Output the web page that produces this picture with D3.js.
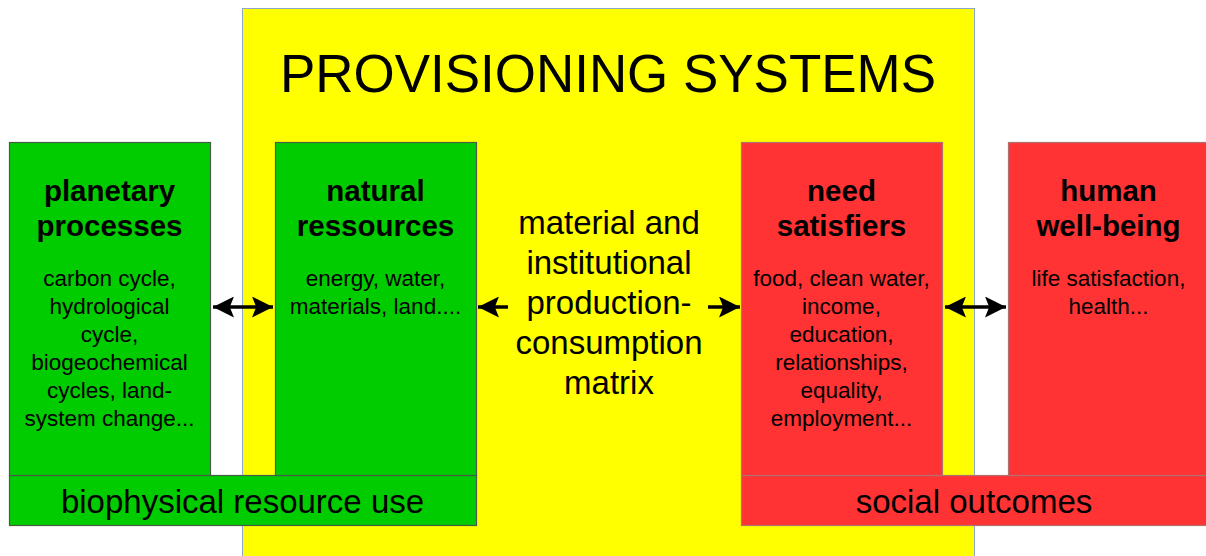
<!doctype html>
<html lang="en">
<head>
    <meta charset="utf-8">
    <title>Provisioning systems</title>
    <script src="https://cdn.jsdelivr.net/npm/d3@7"></script>
    <style>
        body { margin: 0; background: #fff; }
        text { font-family: "Liberation Sans", Arial, sans-serif; fill: #000; }
        .head { font-weight: bold; font-size: 29.5px; }
        .body { font-size: 22.5px; }
        .mid { font-size: 33px; }
        .bar-label { font-size: 33px; }
    </style>
</head>
<body>
<svg width="1206" height="556"></svg>
<script>

    // texts
    var title = "PROVISIONING SYSTEMS";
    var boxHeads = [
        ["planetary", "processes"],
        ["natural", "ressources"],
        ["need", "satisfiers"],
        ["human", "well-being"]
    ];
    var boxBodies = [
        ["carbon cycle,", "hydrological", "cycle,", "biogeochemical", "cycles, land-", "system change..."],
        ["energy, water,", "materials, land...."],
        ["food, clean water,", "income,", "education,", "relationships,", "equality,", "employment..."],
        ["life satisfaction,", "health..."]
    ];
    var boxKinds = ["green", "green", "red", "red"];
    var middleLines = ["material and", "institutional", "production-", "consumption", "matrix"];
    var barLabels = ["biophysical resource use", "social outcomes"];
    // arrows: between columns, "both" / "left" / "right"
    var arrows = [
        {from: 0, to: 1, type: "both"},
        {from: 1, to: 2, type: "left"},
        {from: 1, to: 2, type: "right"},
        {from: 2, to: 3, type: "both"}
    ];

    var fills = {green: "#00cc00", red: "#ff3333"};
    var strokes = {green: "#4a5a4a", red: "#b07070"};

    var svg = d3.select("svg");

    // layout
    var colX = [9, 275, 741, 1008], boxW = 201;
    var boxTop = 142, boxBottom = 475, barBottom = 525;
    var arrowY = 307;

    svg.append("defs").append("marker")
        .attr("id", "head")
        .attr("viewBox", "0 0 10 10")
        .attr("refX", 10).attr("refY", 5)
        .attr("markerWidth", 6).attr("markerHeight", 6)
        .attr("markerUnits", "strokeWidth")
        .attr("orient", "auto-start-reverse")
      .append("path")
        .attr("d", "M0,0 L10,5 L0,10 L2,5 Z")
        .attr("fill", "#000");

    // yellow provisioning box
    svg.append("rect")
        .attr("x", 242.5).attr("y", 8.5)
        .attr("width", 732).attr("height", 560)
        .attr("fill", "#ffff00")
        .attr("stroke", "#8fa6cc").attr("stroke-width", 1);

    svg.append("text")
        .attr("x", 608).attr("y", 92)
        .attr("text-anchor", "middle")
        .attr("font-size", 54)
        .attr("textLength", 656)
        .attr("lengthAdjust", "spacingAndGlyphs")
        .text(title);

    // bottom bars
    var bars = [
        {label: barLabels[0], kind: "green", x0: colX[0], x1: colX[1] + boxW},
        {label: barLabels[1], kind: "red", x0: colX[2], x1: 1212}
    ];
    svg.selectAll(".bar").data(bars).enter().append("rect")
        .attr("class", "bar")
        .attr("x", function(d) { return d.x0 + 0.5; })
        .attr("y", boxBottom + 0.5)
        .attr("width", function(d) { return d.x1 - d.x0; })
        .attr("height", barBottom - boxBottom)
        .attr("fill", function(d) { return fills[d.kind]; })
        .attr("stroke", function(d) { return strokes[d.kind]; })
        .attr("stroke-width", 1.2);

    svg.selectAll(".bar-label").data(bars).enter().append("text")
        .attr("class", "bar-label")
        .attr("x", function(d) { return d.kind == "red" ? 974 : (d.x0 + d.x1) / 2; })
        .attr("y", 512.5)
        .attr("text-anchor", "middle")
        .text(function(d) { return d.label; });

    // boxes
    var boxes = svg.selectAll(".box").data(boxHeads).enter().append("g")
        .attr("class", "box")
        .attr("transform", function(d, i) { return "translate(" + colX[i] + "," + boxTop + ")"; });

    boxes.append("rect")
        .attr("x", 0.5).attr("y", 0.5)
        .attr("width", function(d, i) { return i == 3 ? 210 : boxW; })
        .attr("height", boxBottom - boxTop)
        .attr("fill", function(d, i) { return fills[boxKinds[i]]; })
        .attr("stroke", function(d, i) { return strokes[boxKinds[i]]; })
        .attr("stroke-width", 1.2);

    boxes.each(function(d, i) {
        var g = d3.select(this);
        d.forEach(function(line, j) {
            g.append("text").attr("class", "head")
                .attr("x", boxW / 2).attr("y", 59 + j * 35)
                .attr("text-anchor", "middle")
                .text(line);
        });
        boxBodies[i].forEach(function(line, j) {
            g.append("text").attr("class", "body")
                .attr("x", boxW / 2).attr("y", 144 + j * 28)
                .attr("text-anchor", "middle")
                .text(line);
        });
    });

    // middle text
    svg.selectAll(".mid").data(middleLines).enter().append("text")
        .attr("class", "mid")
        .attr("x", 609)
        .attr("y", function(d, i) { return 234 + i * 40; })
        .attr("text-anchor", "middle")
        .text(function(d) { return d; });

    // arrows
    svg.selectAll(".arrow").data(arrows).enter().append("line")
        .attr("class", "arrow")
        .attr("x1", function(d) {
            if (d.type == "both") return colX[d.from] + boxW + 3;
            if (d.type == "left") return 508;
            return 708;
        })
        .attr("x2", function(d) {
            if (d.type == "both") return colX[d.to] - 2;
            if (d.type == "left") return colX[d.from] + boxW + 2;
            return colX[d.to] - 1;
        })
        .attr("y1", arrowY).attr("y2", arrowY)
        .attr("stroke", "#000")
        .attr("stroke-width", 3.5)
        .attr("marker-end", "url(#head)")
        .attr("marker-start", function(d) { return d.type == "both" ? "url(#head)" : null; });

</script>
</body>
</html>
